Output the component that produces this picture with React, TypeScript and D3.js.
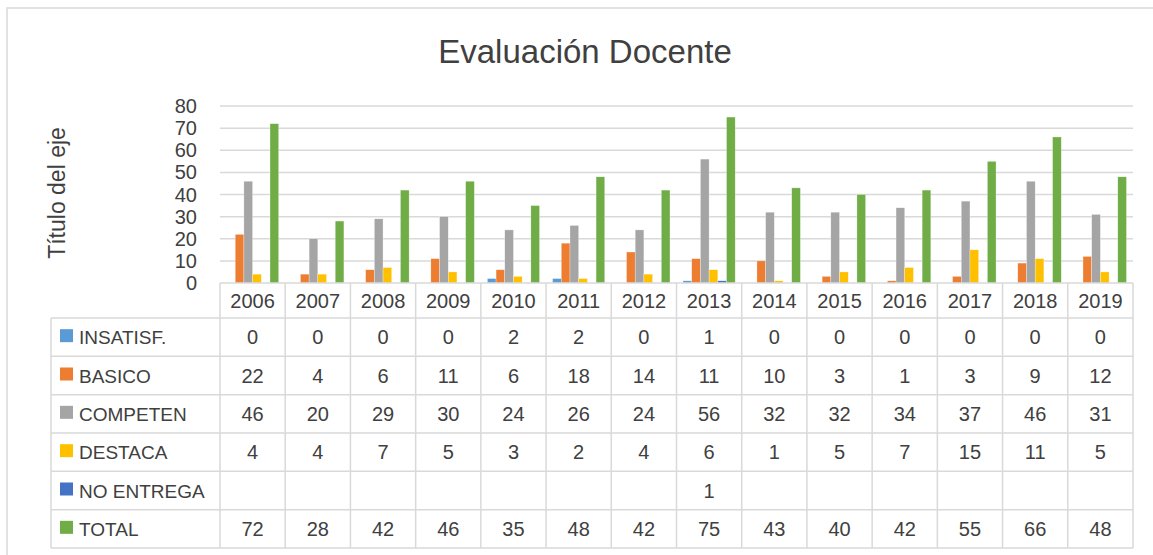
import * as React from 'react'
import * as d3 from 'd3'

const years = ['2006', '2007', '2008', '2009', '2010', '2011', '2012', '2013', '2014', '2015', '2016', '2017', '2018', '2019']
const seriesNames = ['INSATISF.', 'BASICO', 'COMPETEN', 'DESTACA', 'NO ENTREGA', 'TOTAL']
const seriesColors = ['#5B9BD5', '#ED7D31', '#A5A5A5', '#FFC000', '#4472C4', '#70AD47']

const insatisf = [0, 0, 0, 0, 2, 2, 0, 1, 0, 0, 0, 0, 0, 0]
const basico = [22, 4, 6, 11, 6, 18, 14, 11, 10, 3, 1, 3, 9, 12]
const competen = [46, 20, 29, 30, 24, 26, 24, 56, 32, 32, 34, 37, 46, 31]
const destaca = [4, 4, 7, 5, 3, 2, 4, 6, 1, 5, 7, 15, 11, 5]
const noEntrega: (number | null)[] = [null, null, null, null, null, null, null, 1, null, null, null, null, null, null]
const total = [72, 28, 42, 46, 35, 48, 42, 75, 43, 40, 42, 55, 66, 48]

const yTicks = [0, 10, 20, 30, 40, 50, 60, 70, 80]

const seriesValues: (number | null)[][] = [insatisf, basico, competen, destaca, noEntrega, total]

const FONT = "'Liberation Sans', Arial, sans-serif"
const TEXT = '#404040'
const LINE = '#D9D9D9'

export default function App() {
	const dims = { width: 1153, height: 555, plotLeft: 220, plotRight: 1133, plotTop: 106, plotBottom: 283, tableLeft: 51, headerBottom: 318, tableBottom: 548 }

	const x = d3.scaleBand<string>()
		.domain(years)
		.range([dims.plotLeft, dims.plotRight])
		.padding(0)

	// six bars per year, gap width 150%
	const inner = d3.scaleBand<string>()
		.domain(seriesNames)
		.range([0, x.bandwidth()])
		.paddingInner(0)
		.paddingOuter(0.75)

	const y = d3.scaleLinear()
		.domain([0, 80])
		.range([dims.plotBottom, dims.plotTop])

	const rows = d3.scaleBand<string>()
		.domain(seriesNames)
		.range([dims.headerBottom, dims.tableBottom])

	return (
		<svg width={dims.width} height={dims.height} style={{ position: 'absolute', left: 0, top: 0, background: '#fff' }} fontFamily={FONT}>
			<rect x={7} y={8} width={1160} height={560} fill="#fff" stroke={LINE} strokeWidth={1.5} />

			<text x={585} y={63} textAnchor="middle" fontSize={33} fill={TEXT}>Evaluación Docente</text>

			<text transform={`translate(65, 193) rotate(-90)`} textAnchor="middle" fontSize={23} fill={TEXT}>Título del eje</text>

			{yTicks.map(t => (
				<g key={t}>
					{t > 0 && <line x1={dims.plotLeft} x2={dims.plotRight} y1={y(t)} y2={y(t)} stroke={LINE} strokeWidth={1.5} />}
					<text x={197} y={y(t) + 7} textAnchor="end" fontSize={20} fill={TEXT}>{t}</text>
				</g>
			))}

			{years.map((yr, i) => (
				<g key={yr}>
					{seriesValues.map((vals, s) => {
						const v = vals[i]
						if (v === null || v === 0) return null
						return (
							<rect key={s}
								x={x(yr)! + inner(seriesNames[s])!}
								y={y(v)}
								width={inner.bandwidth()}
								height={y(0) - y(v)}
								fill={seriesColors[s]}
								stroke="#fff" strokeOpacity={0.6} strokeWidth={0.5} />
						)
					})}
				</g>
			))}

			{/* data table */}
			<line x1={dims.plotLeft} x2={dims.plotRight} y1={dims.plotBottom} y2={dims.plotBottom} stroke={LINE} strokeWidth={1.5} />
			{[...seriesNames.map(n => rows(n)!), dims.tableBottom].map((ry, i) => (
				<line key={i} x1={dims.tableLeft} x2={dims.plotRight} y1={ry} y2={ry} stroke={LINE} strokeWidth={1.5} />
			))}
			<line x1={dims.tableLeft} x2={dims.tableLeft} y1={dims.headerBottom} y2={dims.tableBottom} stroke={LINE} strokeWidth={1.5} />
			{[...years.map(yr => x(yr)!), dims.plotRight].map((cx, i) => (
				<line key={i} x1={cx} x2={cx} y1={dims.plotBottom} y2={dims.tableBottom} stroke={LINE} strokeWidth={1.5} />
			))}

			{years.map(yr => (
				<text key={yr} x={x(yr)! + x.bandwidth() / 2} y={dims.headerBottom - 10} textAnchor="middle" fontSize={20} fill={TEXT}>{yr}</text>
			))}

			{seriesNames.map((name, s) => {
				const ry = rows(name)!
				const cy = ry + rows.bandwidth() / 2
				return (
					<g key={name}>
						<rect x={60} y={cy - 8} width={13} height={13} fill={seriesColors[s]} />
						<text x={79} y={cy + 7} fontSize={19} fill={TEXT}>{name}</text>
						{years.map((yr, i) => {
							const v = seriesValues[s][i]
							if (v === null) return null
							return <text key={yr} x={x(yr)! + x.bandwidth() / 2} y={cy + 7} textAnchor="middle" fontSize={20} fill={TEXT}>{v}</text>
						})}
					</g>
				)
			})}
		</svg>
	)
}
